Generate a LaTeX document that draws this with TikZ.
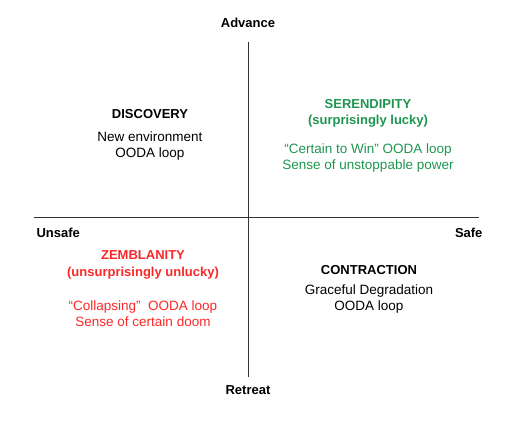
\documentclass[tikz,border=0pt]{standalone}
\usepackage{fontspec}
\setmainfont{Liberation Sans}
\usepackage{tikz}

\definecolor{luckgreen}{RGB}{30,150,80}
\definecolor{doomred}{RGB}{250,40,40}

\begin{document}
\begin{tikzpicture}[x=1pt, y=-1pt,
  axislabel/.style={font=\fontsize{13}{15}\selectfont\bfseries},
  quadtitle/.style={align=center, font=\fontsize{13}{16.5}\selectfont\bfseries},
  quadtext/.style={align=center, font=\fontsize{13.5}{16}\selectfont}]
  \useasboundingbox (0,0) rectangle (518,435);

  % axes
  \coordinate (top) at (248,42);
  \coordinate (bottom) at (248,377);
  \coordinate (left) at (34,217);
  \coordinate (right) at (479,217);
  \draw[line width=0.9pt, black!80] (top) -- (bottom);
  \draw[line width=0.9pt, black!80] (left) -- (right);

  \node[axislabel] (advance) at (248,23) {Advance};
  \node[axislabel] (retreat) at (248,390) {Retreat};
  \node[axislabel, anchor=west] (unsafe) at (33,233) {Unsafe};
  \node[axislabel, anchor=east] (safe) at (486,233) {Safe};

  % quadrants
  \node[quadtitle] (discovery) at (150,114) {DISCOVERY};
  \node[quadtext] (discoverytext) at (150,146) {New environment\\OODA loop};

  \node[quadtitle, luckgreen] (serendipity) at (368,113.5) {SERENDIPITY\\(surprisingly lucky)};
  \node[quadtext, luckgreen] (serendipitytext) at (368,158) {\char"201C Certain to Win\char"201D{} OODA loop\\Sense of unstoppable power};

  \node[quadtitle, doomred] (zemblanity) at (143,265) {ZEMBLANITY\\(unsurprisingly unlucky)};
  \node[quadtext, doomred] (zemblanitytext) at (143,314) {\char"201C Collapsing\char"201D{}\ \ OODA loop\\Sense of certain doom};

  \node[quadtitle] (contraction) at (369,270) {CONTRACTION};
  \node[quadtext] (contractiontext) at (369,299) {Graceful Degradation\\OODA loop};
\end{tikzpicture}
\end{document}
